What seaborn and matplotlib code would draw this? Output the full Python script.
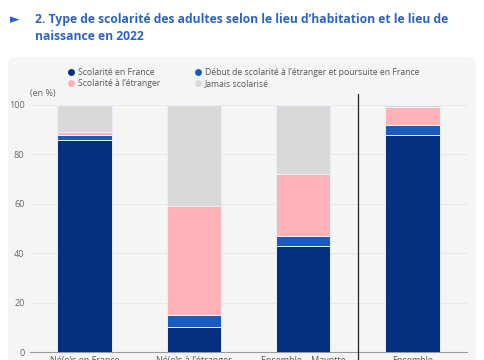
import matplotlib
matplotlib.use('Agg')
import matplotlib.pyplot as plt
import seaborn as sns
import pandas as pd
from matplotlib.patches import FancyBboxPatch
from matplotlib.lines import Line2D

# Data (en %)
categories = ['Né(e)s en France', 'Né(e)s à l\u2019étranger', 'Ensemble \u2013 Mayotte',
              'Ensemble\nFrance hors Mayotte']
scol_france = [86, 10, 43, 88]
debut_etranger = [2, 5, 4, 4]
scol_etranger = [1, 44, 25, 7]
jamais = [11, 41, 28, 1]

series_names = ['Scolarité en France',
                'Début de scolarité à l\u2019étranger et poursuite en France',
                'Scolarité à l\u2019étranger', 'Jamais scolarisé']
colors = ['#05307f', '#1a5bc2', '#ffb3b9', '#d9d9d9']

df = pd.DataFrame({'cat': categories,
                   series_names[0]: scol_france,
                   series_names[1]: debut_etranger,
                   series_names[2]: scol_etranger,
                   series_names[3]: jamais})

sns.set_style('white')
plt.rcParams['font.family'] = ['Open Sans', 'DejaVu Sans']

fig = plt.figure(figsize=(4.85, 3.6), dpi=100)
fig.patch.set_facecolor('white')

# light grey panel
panel = FancyBboxPatch((8 / 485, -0.05), 468 / 485, (360 - 57) / 360 + 0.05,
                       boxstyle='round,pad=0,rounding_size=0.02',
                       transform=fig.transFigure, facecolor='#f5f5f5',
                       edgecolor='none', zorder=-5)
fig.patches.append(panel)

ax = fig.add_axes([30 / 485, 8 / 360, 437 / 485, 247 / 360])
ax.set_facecolor('none')
ax.set_zorder(2)

bottom = pd.Series([0] * len(categories), dtype=float)
for name, col in zip(series_names, colors):
    sns.barplot(data=df, x='cat', y=name, color=col, saturation=1, width=0.5,
                bottom=bottom, edgecolor='#eaf0fb', linewidth=0.7, ax=ax, zorder=3)
    bottom = bottom + df[name]

ax.set_xlim(-0.5, 3.5)
ax.set_ylim(0, 100)
ax.set_yticks([0, 20, 40, 60, 80, 100])
ax.set_xlabel('')
ax.set_ylabel('')
ax.grid(axis='y', color='#e6e6e6', linewidth=0.6, zorder=0)
ax.set_axisbelow(True)
for s in ['left', 'top', 'right']:
    ax.spines[s].set_visible(False)
ax.spines['bottom'].set_color('#9a9a9a')
ax.spines['bottom'].set_linewidth(0.8)
ax.tick_params(axis='y', length=0, labelsize=6.5, labelcolor='#666666', pad=4)
ax.tick_params(axis='x', length=0, labelsize=6.5, labelcolor='#555555', pad=3)

ax.text(0.0, 1.03, '(en %)', transform=ax.transAxes, fontsize=6.5,
        color='#666666', ha='left', va='bottom')

# separator line
ax.add_line(Line2D([2.5, 2.5], [-0.05, 1.045], transform=ax.get_xaxis_transform(),
                   color='#222222', linewidth=0.9, clip_on=False, zorder=5))

# legend (row-major order)
order = [0, 2, 1, 3]
handles = [Line2D([], [], marker='o', linestyle='', markersize=5,
                  markerfacecolor=colors[i], markeredgecolor='none') for i in order]
labels = [series_names[i] for i in order]
fig.legend(handles, labels, loc='upper left', bbox_to_anchor=(59 / 485, 1 - 60 / 360),
           ncol=2, frameon=False, fontsize=6.2, labelcolor='#555555',
           handletextpad=0.3, columnspacing=3.9, labelspacing=0.3, handlelength=1.0)

# title
title_col = '#2d62c6'
fig.text(10 / 485, 1 - 20 / 360, '\u25ba', fontsize=9, color=title_col, va='center',
         family=['DejaVu Sans'])
fig.text(35 / 485, 1 - 20 / 360,
         '2. Type de scolarité des adultes selon le lieu d\u2019habitation et le lieu de',
         fontsize=8.7, fontweight='bold', color=title_col, va='center')
fig.text(35 / 485, 1 - 36 / 360, 'naissance en 2022',
         fontsize=8.7, fontweight='bold', color=title_col, va='center')

fig.savefig('out.png', dpi=100)
